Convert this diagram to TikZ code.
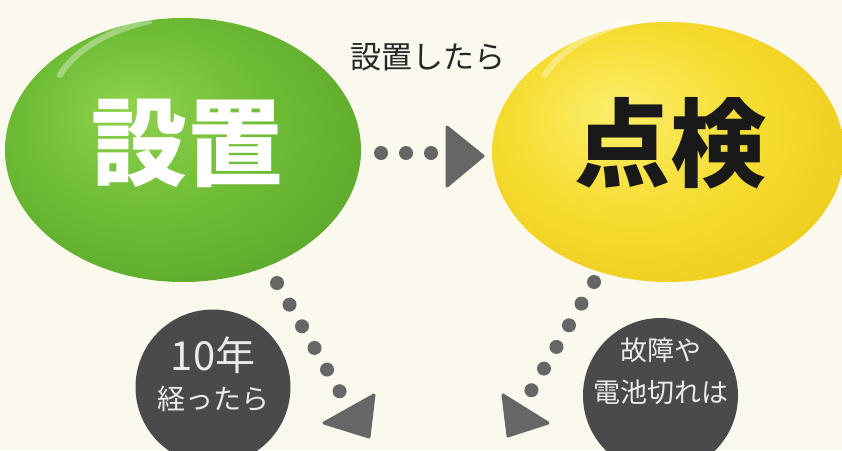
\documentclass[tikz,border=0pt]{standalone}
\usepackage{fontspec}
\newfontfamily\cjk{Noto Sans CJK JP}
\usetikzlibrary{calc}
\definecolor{bg}{HTML}{FBF9EE}
\definecolor{gA}{HTML}{8FD24F}
\definecolor{gB}{HTML}{6DBB35}
\definecolor{gC}{HTML}{54A126}
\definecolor{gD}{HTML}{3D7E18}
\definecolor{yA}{HTML}{FBEE6A}
\definecolor{yB}{HTML}{F6DC30}
\definecolor{yC}{HTML}{EBC514}
\definecolor{yD}{HTML}{D9A600}
\definecolor{dotc}{HTML}{666666}
\definecolor{circc}{HTML}{4A4A4A}
\pgfdeclareradialshading{greenball}{\pgfpoint{-8bp}{8bp}}{color(0bp)=(gA); color(18bp)=(gB); color(38bp)=(gC); color(50bp)=(gD)}
\pgfdeclareradialshading{yellowball}{\pgfpoint{-8bp}{8bp}}{color(0bp)=(yA); color(18bp)=(yB); color(38bp)=(yC); color(50bp)=(yD)}
\tikzset{
  dotline/.style={draw=dotc, line width=14pt, line cap=round, dash pattern=on 0pt off 25pt},
  tri/.style={fill=dotc, draw=dotc, line width=3pt, line join=round},
  circlab/.style={text=white!92!black, font=\cjk, align=center, inner sep=0pt},
}
\begin{document}
\begin{tikzpicture}[x=1pt,y=-1pt]
\useasboundingbox (0,0) rectangle (842,450);
\fill[bg] (0,0) rectangle (842,450);
\clip (0,0) rectangle (842,450);
% big ellipses
\shade[shading=greenball] (183,150) ellipse [x radius=178, y radius=132];
\shade[shading=yellowball] (668,152) ellipse [x radius=176, y radius=130];
\node[coordinate] (setchi) at (183,150) {};
\node[coordinate] (tenken) at (668,152) {};
% gloss
\draw[white, opacity=0.35, line width=6pt, line cap=round] (60,75) arc[start angle=200, end angle=250, x radius=150, y radius=90];
\draw[white, opacity=0.35, line width=6pt, line cap=round] (545,75) arc[start angle=200, end angle=250, x radius=150, y radius=90];
% titles
\node[text=white, font=\cjk\bfseries\fontsize{96}{96}\selectfont, inner sep=0pt] (t1) at (187,143) {設置};
\node[text=black!90, font=\cjk\bfseries\fontsize{96}{96}\selectfont, inner sep=0pt] (t2) at (670,143) {点検};
\node[text=black!85, font=\cjk\fontsize{31}{31}\selectfont, inner sep=0pt] (lab) at (428,57) {設置したら};
% dark circles
\fill[circc] (213,387) circle[radius=77.5];
\fill[circc] (660.5,395.5) circle[radius=77.5];
\node[circlab, font=\cjk\fontsize{40}{40}\selectfont] (c1a) at (213,355) {10年};
\node[circlab, font=\cjk\fontsize{28}{28}\selectfont] (c1b) at (213,399) {経ったら};
\node[circlab, font=\cjk\fontsize{27}{27}\selectfont] (c2a) at (661,350) {故障や};
\node[circlab, font=\cjk\fontsize{27}{27}\selectfont] (c2b) at (661,392) {電池切れは};
% connectors
\coordinate (m1) at (381,153);
\coordinate (m2) at (431.5,153);
\draw[dotline] (m1) -- (m2);
\fill[tri] (447,127) -- (447,186) -- (483,156) -- cycle;
\coordinate (l1) at (277,283);
\coordinate (l2) at (340,392);
\draw[dotline] (l1) -- (l2);
\fill[tri] (374,395) -- (369,437) -- (324,423) -- cycle;
\coordinate (r1) at (594,282);
\coordinate (r2) at (531,391);
\draw[dotline] (r1) -- (r2);
\fill[tri] (503,395) -- (508,436) -- (548,423) -- cycle;
\end{tikzpicture}
\end{document}
